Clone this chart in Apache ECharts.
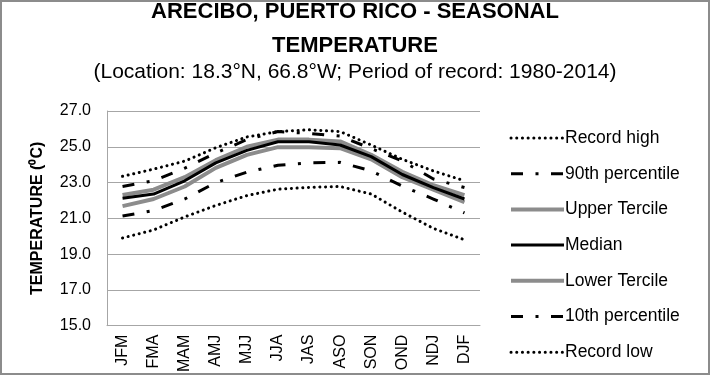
<!DOCTYPE html>
<html>
<head>
<meta charset="utf-8">
<script src="https://cdn.jsdelivr.net/npm/echarts@6.0.0/dist/echarts.min.js"></script>
<style>
  html, body { margin: 0; padding: 0; background: #fff; }
  #main { width: 710px; height: 375px; }
</style>
</head>
<body>
<div id="main"></div>
<script>
// seasons (3-month windows)
var seasons = ['JFM', 'FMA', 'MAM', 'AMJ', 'MJJ', 'JJA', 'JAS', 'ASO', 'SON', 'OND', 'NDJ', 'DJF'];
var yTicks = [15, 17, 19, 21, 23, 25, 27];

var recordHigh  = [23.35, 23.75, 24.2, 24.95, 25.55, 25.85, 25.95, 25.85, 25.1, 24.3, 23.65, 23.1];
var pct90       = [22.78, 23.1, 23.8, 24.65, 25.4, 25.85, 25.75, 25.6, 24.9, 24.2, 23.2, 22.72];
var upperTerc   = [22.3, 22.6, 23.3, 24.25, 25.0, 25.4, 25.4, 25.3, 24.55, 23.6, 22.85, 22.3];
var median      = [22.12, 22.36, 23.1, 24.1, 24.8, 25.28, 25.28, 25.1, 24.45, 23.45, 22.72, 22.08];
var lowerTerc   = [21.68, 22.08, 22.78, 23.82, 24.55, 24.98, 24.98, 24.92, 24.3, 23.3, 22.6, 21.9];
var pct10       = [21.13, 21.44, 22.08, 23.0, 23.58, 23.97, 24.1, 24.13, 23.65, 22.8, 22.08, 21.3];
var recordLow   = [19.9, 20.35, 21.08, 21.72, 22.27, 22.63, 22.73, 22.78, 22.36, 21.35, 20.44, 19.8];

var font = 'Liberation Sans';
var dashDot = [12, 12.5, 3, 12.5];
var dots = [0.1, 5.6];

function mkLine(name, data, color, width, type, cap, z){
  return {
    name: name,
    type: 'line',
    data: data,
    symbol: 'none',
    showSymbol: false,
    z: z || 2,
    lineStyle: { color: color, width: width, type: type, cap: cap || 'butt' },
    itemStyle: { color: color },
    emphasis: { disabled: true }
  };
}

var myChart = echarts.init(document.getElementById('main'));
var option = {
  animation: false,
  textStyle: { fontFamily: font },
  title: [
    {
      text: 'ARECIBO, PUERTO RICO - SEASONAL\nTEMPERATURE',
      left: 'center',
      top: -10,
      textStyle: { fontFamily: font, fontSize: 22, fontWeight: 'bold', color: '#000', lineHeight: 34 }
    },
    {
      text: '(Location: 18.3°N, 66.8°W; Period of record: 1980-2014)',
      left: 'center',
      top: 57,
      textStyle: { fontFamily: font, fontSize: 21, fontWeight: 'normal', color: '#000' }
    }
  ],
  graphic: [{
    type: 'rect',
    shape: { x: 1, y: 1, width: 708, height: 373 },
    style: { fill: null, stroke: '#8c8c8c', lineWidth: 2 },
    silent: true
  }],
  legend: {
    orient: 'vertical',
    left: 509,
    top: 129,
    padding: 0,
    itemWidth: 53,
    itemHeight: 14,
    itemGap: 17.7,
    itemStyle: { opacity: 0 },
    lineStyle: { width: 'inherit' },
    textStyle: { fontFamily: font, fontSize: 17.5, color: '#000', padding: [0, 0, 0, -4] },
    data: ['Record high', '90th percentile', 'Upper Tercile', 'Median', 'Lower Tercile', '10th percentile', 'Record low']
  },
  grid: { left: 107, top: 111, right: 230, bottom: 46 },
  xAxis: {
    type: 'category',
    data: seasons,
    boundaryGap: true,
    axisLine: { show: true, lineStyle: { color: '#a6a6a6', width: 1 } },
    axisTick: { show: false },
    axisLabel: { rotate: 90, interval: 0, margin: 9, fontSize: 16, color: '#000', fontFamily: font }
  },
  yAxis: {
    type: 'value',
    min: 15,
    max: 27,
    name: 'TEMPERATURE (⁰C)',
    nameLocation: 'middle',
    nameGap: 61,
    nameTextStyle: { fontFamily: font, fontSize: 16, fontWeight: 'bold', color: '#000' },
    axisLine: { show: true, lineStyle: { color: '#a6a6a6', width: 1 } },
    axisTick: { show: false, customValues: yTicks },
    axisLabel: {
      customValues: yTicks,
      fontSize: 16, color: '#000', margin: 16, fontFamily: font,
      formatter: function(v){ return v.toFixed(1); }
    },
    splitLine: { show: true, lineStyle: { color: '#a6a6a6', width: 1 } }
  },
  series: [
    mkLine('Record high', recordHigh, '#000', 3, dots, 'round'),
    mkLine('90th percentile', pct90, '#000', 3, dashDot),
    mkLine('Upper Tercile', upperTerc, '#8c8c8c', 4, 'solid'),
    mkLine('Median', median, '#000', 3, 'solid', 'butt', 5),
    mkLine('Lower Tercile', lowerTerc, '#8c8c8c', 4, 'solid'),
    mkLine('10th percentile', pct10, '#000', 3, dashDot),
    mkLine('Record low', recordLow, '#000', 3, dots, 'round')
  ]
};
myChart.setOption(option);
</script>
</body>
</html>
